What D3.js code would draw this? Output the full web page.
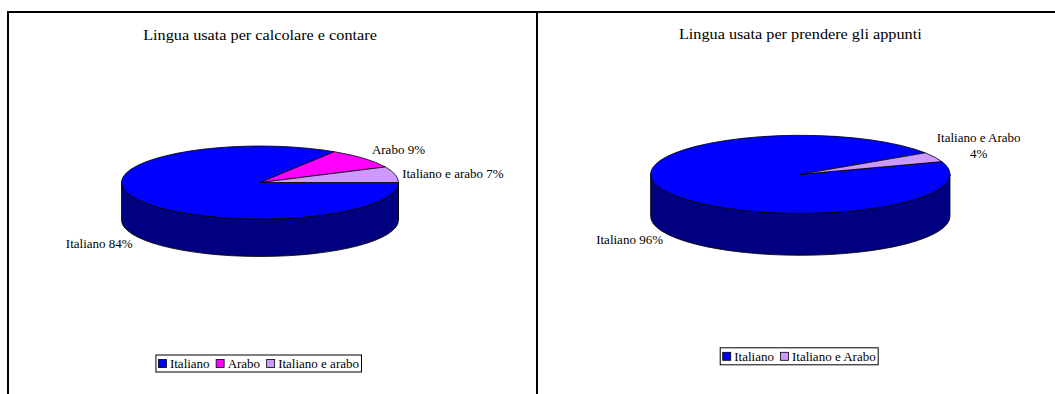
<!DOCTYPE html>
<html><head><meta charset="utf-8">
<script src="https://cdn.jsdelivr.net/npm/d3@7"></script>
<style>
body{margin:0;background:#fff}
svg{display:block}
</style>
</head><body>
<svg id="chart" width="1055" height="394"></svg>
<script>
// Language used for calculating and counting
const calcCategories = ["Italiano", "Arabo", "Italiano e arabo"];
const calcValues = [84, 9, 7];
// Language used for taking notes
const notesCategories = ["Italiano", "Italiano e Arabo"];
const notesValues = [96, 4];
const chartTitles = ["Lingua usata per calcolare e contare", "Lingua usata per prendere gli appunti"];

// Face colours: top surface and the darker side wall
const topFill = {"Italiano": "#0000ff", "Arabo": "#ff00ff", "Italiano e arabo": "#cc99ff", "Italiano e Arabo": "#cc99ff"};
const sideFill = {"Italiano": "#000080", "Arabo": "#800080", "Italiano e arabo": "#7a5c99", "Italiano e Arabo": "#7a5c99"};

const svg = d3.select("#chart");
const deg = Math.PI / 180;
const serif = "'Liberation Serif', 'Times New Roman', serif";

// Panel frames
svg.append("line").attr("x1", 7).attr("x2", 1055).attr("y1", 12).attr("y2", 12)
  .attr("stroke", "#000").attr("stroke-width", 2);
[8, 537].forEach(x => svg.append("line").attr("x1", x).attr("x2", x).attr("y1", 11).attr("y2", 394)
  .attr("stroke", "#000").attr("stroke-width", 2));

const labelSize = 13;
const titleSize = 14.5;
const titleStretch = 1.12;

function addText(g, x, y, str, size, sx, anchor) {
  return g.append("text")
    .attr("transform", `translate(${x},${y}) scale(${sx},1)`)
    .style("font-family", serif)
    .style("font-size", size + "px")
    .attr("fill", "#000")
    .attr("text-anchor", anchor || "start")
    .text(str);
}

function drawPie(cfg) {
  const g = svg.append("g");
  const data = cfg.categories.map((c, i) => ({cat: c, value: cfg.values[i]}));
  const pie = d3.pie().sort(null).value(d => d.value)
    .startAngle(cfg.start).endAngle(cfg.start + 2 * Math.PI);
  const arcs = pie(data);
  const {cx, cy, rx, ry, depth} = cfg;
  const pt = (a, dy = 0) => [cx + rx * Math.sin(a), cy - ry * Math.cos(a) + dy];

  // Side walls: only the front half (3 o'clock through 6 to 9 o'clock) is visible
  arcs.forEach(d => {
    for (let k = 0; k < 2; k++) {
      const lo = Math.max(d.startAngle, Math.PI / 2 + 2 * Math.PI * k);
      const hi = Math.min(d.endAngle, 3 * Math.PI / 2 + 2 * Math.PI * k);
      if (hi <= lo) continue;
      const p0 = pt(lo), p1 = pt(hi), q1 = pt(hi, depth), q0 = pt(lo, depth);
      g.append("path")
        .attr("d", `M${p0}A${rx},${ry} 0 0 1 ${p1}L${q1}A${rx},${ry} 0 0 0 ${q0}Z`)
        .attr("fill", sideFill[d.data.cat]).attr("stroke", "#000").attr("stroke-width", 0.8)
        .attr("stroke-linejoin", "round");
    }
  });

  // Top faces
  arcs.forEach(d => {
    const p0 = pt(d.startAngle), p1 = pt(d.endAngle);
    const large = d.endAngle - d.startAngle > Math.PI ? 1 : 0;
    g.append("path")
      .attr("d", `M${cx},${cy}L${p0}A${rx},${ry} 0 ${large} 1 ${p1}Z`)
      .attr("fill", topFill[d.data.cat]).attr("stroke", "#000").attr("stroke-width", 0.8)
      .attr("stroke-linejoin", "round");
  });

  // Data labels, anchored on the rim at each slice's middle angle
  arcs.forEach((d, i) => {
    const mid = (d.startAngle + d.endAngle) / 2;
    const front = Math.cos(mid) < 0;
    const base = pt(mid, front ? depth : 0);
    const lay = cfg.labelLayout[i];
    const lines = lay.wrap ? [d.data.cat, d.data.value + "%"] : [d.data.cat + " " + d.data.value + "%"];
    const lh = 15.5;
    const y0 = base[1] + lay.dy - (lines.length - 1) * lh / 2 + 4.3;
    lines.forEach((s, j) => addText(g, base[0] + lay.dx, y0 + j * lh, s, labelSize, 1, lay.anchor));
  });

  // Title
  addText(g, cx, cfg.titleY, cfg.title, titleSize, titleStretch, "middle");

  // Legend
  const lg = g.append("g");
  const box = lg.append("rect").attr("fill", "#fff").attr("stroke", "#000").attr("stroke-width", 1);
  let x = 2.5;
  data.forEach((d, i) => {
    if (i > 0) x += 6.5;
    lg.append("rect").attr("x", x).attr("y", -4).attr("width", 8).attr("height", 8)
      .attr("fill", topFill[d.cat]).attr("stroke", "#000").attr("stroke-width", 0.8);
    x += 11.5;
    const t = addText(lg, x, 4.3, d.cat, labelSize, 1, "start");
    x += t.node().getComputedTextLength();
  });
  const w = x + 2.5;
  box.attr("x", 0).attr("y", -8.5).attr("width", w).attr("height", 17);
  lg.attr("transform", `translate(${cfg.legendCx - w / 2},${cfg.legendCy})`);
}

drawPie({
  categories: calcCategories, values: calcValues, title: chartTitles[0],
  cx: 260, cy: 182.5, rx: 138.5, ry: 36.5, depth: 37.5, start: 90 * deg,
  titleY: 39.5, legendCx: 258.7, legendCy: 363.5,
  labelLayout: [
    {dx: -6, dy: 6.5, anchor: "end"},
    {dx: 8, dy: -8.5, anchor: "start"},
    {dx: 7, dy: -1.2, anchor: "start"}
  ]
});

drawPie({
  categories: notesCategories, values: notesValues, title: chartTitles[1],
  cx: 800.3, cy: 174.3, rx: 149.7, ry: 39, depth: 42, start: 71 * deg,
  titleY: 38.5, legendCx: 799.2, legendCy: 356.3,
  labelLayout: [
    {dx: -3, dy: 6.5, anchor: "end"},
    {dx: 44, dy: -11.3, anchor: "middle", wrap: true}
  ]
});
</script>
</body></html>
